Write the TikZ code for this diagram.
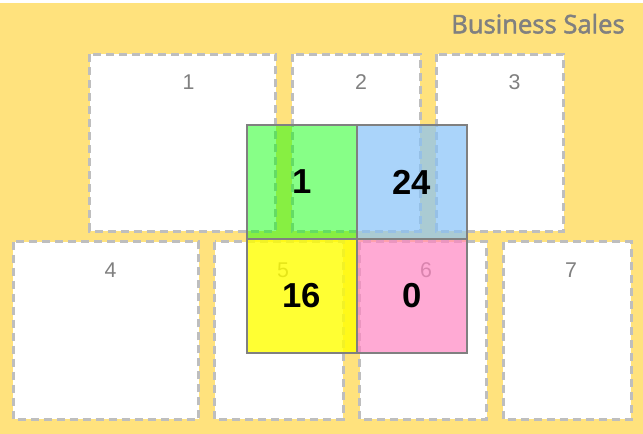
\documentclass[tikz,border=0pt]{standalone}
\usepackage{fontspec}
\setmainfont{Liberation Sans}
\newfontfamily\titlefont[FakeBold=2]{Open Sans}
\definecolor{bgyellow}{RGB}{255,226,125}
\definecolor{boxborder}{RGB}{190,190,190}
\definecolor{labelgray}{RGB}{128,128,128}
\definecolor{cellgreen}{RGB}{0,255,0}
\definecolor{cellblue}{RGB}{134,194,248}
\definecolor{cellyellow}{RGB}{255,255,0}
\definecolor{cellpink}{RGB}{255,134,194}
\tikzset{
  slotbox/.style={draw=boxborder, fill=white, line width=2.25pt, dash pattern=on 6pt off 3.75pt},
  slotlabel/.style={text=labelgray, font=\fontsize{16}{18}\selectfont, inner sep=0pt},
  cell/.style={draw=labelgray, line width=1.5pt, minimum width=82.5pt, minimum height=85.5pt,
    inner sep=0pt, fill opacity=#1, text opacity=1, font=\fontsize{26}{30}\selectfont\bfseries},
  cell/.default=0.5
}
\begin{document}
\begin{tikzpicture}[x=0.75pt,y=-0.75pt]
\useasboundingbox (0,0) rectangle (643,434);
\fill[white] (0,0) rectangle (643,434);
\fill[bgyellow] (0,3) rectangle (643,434);
\node[anchor=base east, text=labelgray, font=\titlefont\fontsize{19.2}{22}\selectfont, inner sep=0pt] (title) at (625,33.3) {Business Sales};
% slot boxes
\draw[slotbox] (89.5,54.5) rectangle (275.5,231.5);
\draw[slotbox] (292,54.5) rectangle (420,231.5);
\draw[slotbox] (436,54.5) rectangle (563.5,231.5);
\draw[slotbox] (13,242) rectangle (198.5,419.5);
\draw[slotbox] (214.5,242) rectangle (343,419.5);
\draw[slotbox] (359.5,242) rectangle (486.5,419.5);
\draw[slotbox] (503,242) rectangle (631,419.5);
\node[slotlabel] (l1) at (188.5,82) {1};
\node[slotlabel] (l2) at (361,82) {2};
\node[slotlabel] (l3) at (514.5,82) {3};
\node[slotlabel] (l4) at (110.5,270) {4};
\node[slotlabel] (l5) at (283,270) {5};
\node[slotlabel] (l6) at (426,270) {6};
\node[slotlabel] (l7) at (571,270) {7};
% cells
\node[cell=0.47, fill=cellgreen] (c1) at (302,182) {1};
\node[cell=0.7, fill=cellblue] (c2) at (412,182) {24};
\node[cell=0.8, fill=cellyellow] (c3) at (302,296) {16};
\node[cell=0.7, fill=cellpink] (c4) at (412,296) {0};
\end{tikzpicture}
\end{document}
